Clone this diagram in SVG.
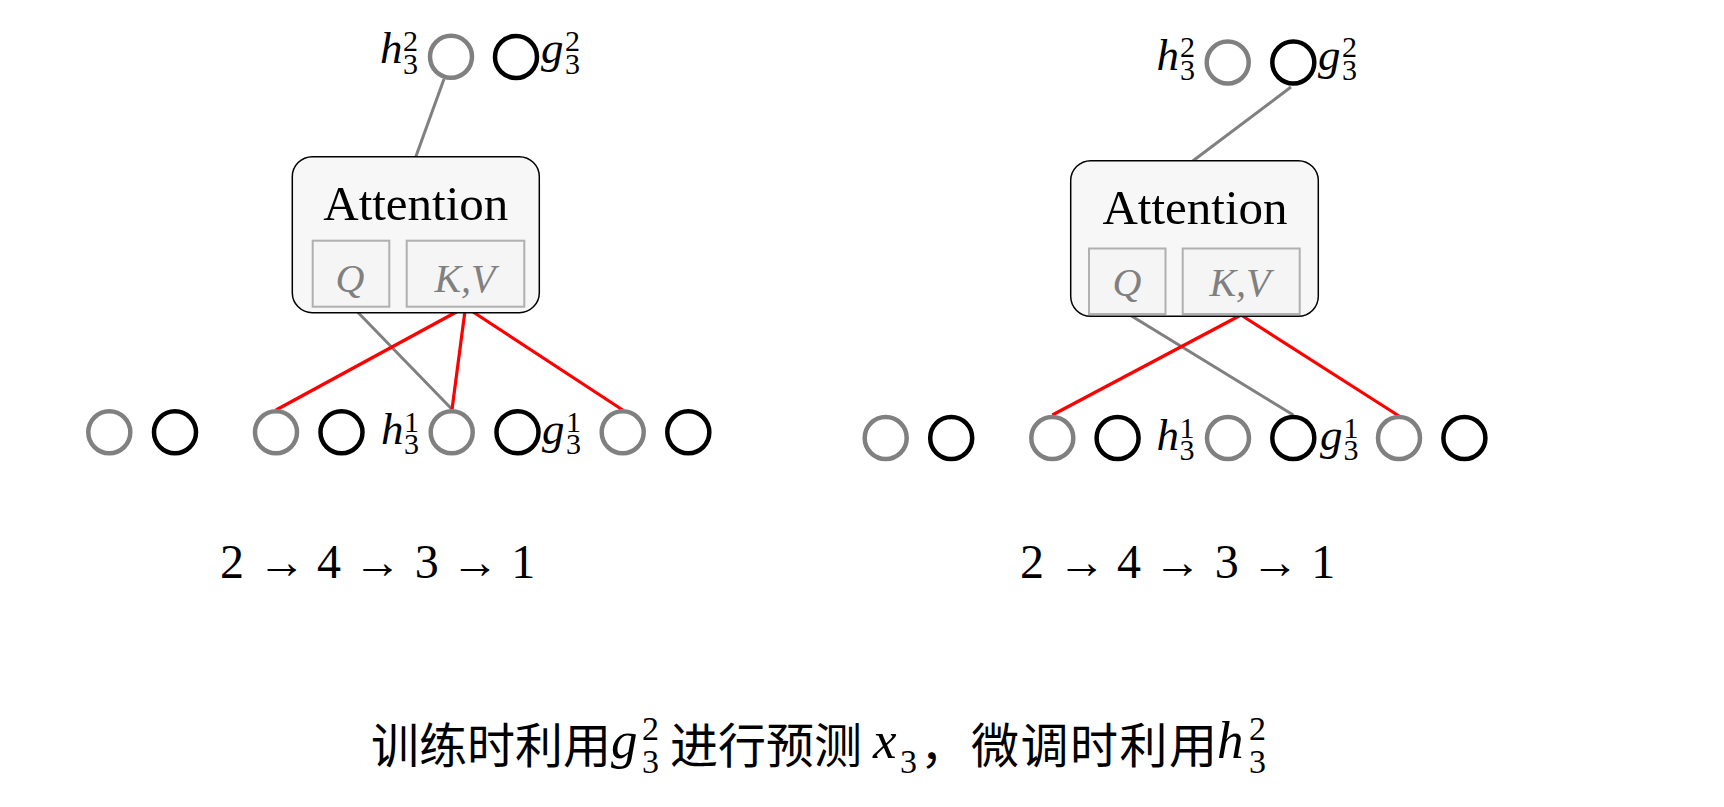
<svg xmlns="http://www.w3.org/2000/svg" width="1724" height="807" viewBox="0 0 1724 807">
  <style>
    .bg { fill: #ffffff; }
    .cg { fill: #ffffff; stroke: #808080; stroke-width: 4.5; }
    .cb { fill: #ffffff; stroke: #000000; stroke-width: 4.5; }
    .att { fill: #f7f7f7; stroke: #000000; stroke-width: 1.5; }
    .sub { fill: #f5f5f5; stroke: #b0b0b0; stroke-width: 2; }
    .attt { font-family: "Liberation Serif", "Times New Roman", serif; font-size: 49px; fill: #000; text-anchor: middle; }
    .qk { font-family: "Liberation Serif", "Times New Roman", serif; font-style: italic; font-size: 40px; fill: #808080; text-anchor: middle; }
    .lab { font-family: "Liberation Serif", "Times New Roman", serif; fill: #000; }
    .mi { font-style: italic; font-size: 45px; }
    .md { font-style: normal; font-size: 30px; }
    .seq { font-family: "Liberation Serif", "Times New Roman", serif; font-size: 48px; fill: #000; text-anchor: middle; }
    .lg { stroke: #808080; stroke-width: 3; fill: none; }
    .lr { stroke: #ff0000; stroke-width: 3.2; fill: none; }
    .cjk { font-family: "Noto Sans CJK SC", sans-serif; font-size: 48px; fill: #000; }
    .cap { font-family: "Liberation Serif", "Times New Roman", serif; fill: #000; }
    .cmi { font-style: italic; font-size: 53px; }
    .cmd { font-style: normal; font-size: 34px; }
  </style>
  <rect class="bg" x="0" y="0" width="1724" height="807"/>

  <!-- connectors -->
  <g id="connectors">
    <line class="lg" x1="444" y1="79" x2="415.7" y2="157"/>
    <line class="lg" x1="352.7" y1="307" x2="451.7" y2="409"/>
    <line class="lr" x1="465.5" y1="307" x2="276" y2="410"/>
    <line class="lr" x1="465.5" y1="307" x2="452" y2="409.5"/>
    <line class="lr" x1="465.5" y1="307" x2="622.7" y2="410"/>

    <line class="lg" x1="1291" y1="87" x2="1192.7" y2="161"/>
    <line class="lg" x1="1128.3" y1="314" x2="1293.3" y2="415"/>
    <line class="lr" x1="1241" y1="315" x2="1052.3" y2="415"/>
    <line class="lr" x1="1241" y1="315" x2="1399" y2="416"/>
  </g>

  <!-- left panel -->
  <g id="left-attention">
    <rect class="att" x="292.3" y="156.7" width="247" height="156" rx="20" ry="20"/>
    <text class="attt" x="415.8" y="220">Attention</text>
    <rect class="sub" x="312.7" y="240.7" width="76.6" height="66"/>
    <text class="qk" x="350" y="292">Q</text>
    <rect class="sub" x="406.7" y="240.7" width="117.6" height="66"/>
    <text class="qk" x="465" y="292">K,V</text>
  </g>
  <g id="left-h32">
    <circle class="cg" cx="451" cy="56.7" r="21"/>
    <text class="lab"><tspan class="mi" x="380" y="63.3">h</tspan><tspan class="md" x="403" y="51">2</tspan><tspan class="md" x="403" y="73.5">3</tspan></text>
  </g>
  <g id="left-g32">
    <circle class="cb" cx="516" cy="57" r="21"/>
    <text class="lab"><tspan class="mi" x="541" y="63.3">g</tspan><tspan class="md" x="565" y="51">2</tspan><tspan class="md" x="565" y="73.5">3</tspan></text>
  </g>
  <g id="left-row">
    <circle class="cg" cx="109.3" cy="432.3" r="21"/>
    <circle class="cb" cx="175" cy="432.3" r="21"/>
    <circle class="cg" cx="276" cy="432.3" r="21"/>
    <circle class="cb" cx="341.5" cy="432.3" r="21"/>
    <circle class="cg" cx="451.7" cy="432.3" r="21"/>
    <circle class="cb" cx="517.5" cy="432.3" r="21"/>
    <circle class="cg" cx="622.7" cy="432.3" r="21"/>
    <circle class="cb" cx="688.3" cy="432.3" r="21"/>
    <text class="lab"><tspan class="mi" x="381" y="444">h</tspan><tspan class="md" x="404" y="432">1</tspan><tspan class="md" x="404" y="454">3</tspan></text>
    <text class="lab"><tspan class="mi" x="542" y="444">g</tspan><tspan class="md" x="566" y="432">1</tspan><tspan class="md" x="566" y="454">3</tspan></text>
  </g>
  <g id="left-seq">
    <text class="seq" x="232" y="578.3">2</text>
    <text class="seq" x="281.7" y="578.3">→</text>
    <text class="seq" x="329" y="578.3">4</text>
    <text class="seq" x="377.5" y="578.3">→</text>
    <text class="seq" x="426.7" y="578.3">3</text>
    <text class="seq" x="475" y="578.3">→</text>
    <text class="seq" x="523.3" y="578.3">1</text>
  </g>

  <!-- right panel -->
  <g id="right-attention">
    <rect class="att" x="1070.7" y="160.7" width="247.6" height="155.6" rx="20" ry="20"/>
    <text class="attt" x="1195" y="224">Attention</text>
    <rect class="sub" x="1089" y="248.5" width="76.5" height="65.5"/>
    <text class="qk" x="1127" y="296">Q</text>
    <rect class="sub" x="1182.7" y="248.5" width="117" height="65.5"/>
    <text class="qk" x="1240" y="296">K,V</text>
  </g>
  <g id="right-h32">
    <circle class="cg" cx="1227.7" cy="62.5" r="21"/>
    <text class="lab"><tspan class="mi" x="1156.5" y="70">h</tspan><tspan class="md" x="1180" y="57">2</tspan><tspan class="md" x="1180" y="79.5">3</tspan></text>
  </g>
  <g id="right-g32">
    <circle class="cb" cx="1293.3" cy="62.5" r="21"/>
    <text class="lab"><tspan class="mi" x="1318" y="70">g</tspan><tspan class="md" x="1342" y="57">2</tspan><tspan class="md" x="1342" y="79.5">3</tspan></text>
  </g>
  <g id="right-row">
    <circle class="cg" cx="885.7" cy="438" r="21"/>
    <circle class="cb" cx="951.2" cy="438" r="21"/>
    <circle class="cg" cx="1052.3" cy="438" r="21"/>
    <circle class="cb" cx="1117.6" cy="438" r="21"/>
    <circle class="cg" cx="1228" cy="438" r="21"/>
    <circle class="cb" cx="1293.3" cy="438" r="21"/>
    <circle class="cg" cx="1399" cy="438" r="21"/>
    <circle class="cb" cx="1464.4" cy="438" r="21"/>
    <text class="lab"><tspan class="mi" x="1156.5" y="449.5">h</tspan><tspan class="md" x="1179.5" y="437.5">1</tspan><tspan class="md" x="1179.5" y="459.5">3</tspan></text>
    <text class="lab"><tspan class="mi" x="1320" y="449.5">g</tspan><tspan class="md" x="1343.5" y="437.5">1</tspan><tspan class="md" x="1343.5" y="459.5">3</tspan></text>
  </g>
  <g id="right-seq">
    <text class="seq" x="1032" y="578.3">2</text>
    <text class="seq" x="1081.7" y="578.3">→</text>
    <text class="seq" x="1129" y="578.3">4</text>
    <text class="seq" x="1177.5" y="578.3">→</text>
    <text class="seq" x="1226.7" y="578.3">3</text>
    <text class="seq" x="1275" y="578.3">→</text>
    <text class="seq" x="1323.3" y="578.3">1</text>
  </g>

  <!-- caption -->
  <g id="caption">
    <text class="cjk" x="371" y="763">训练时利用</text>
    <text class="cap"><tspan class="cmi" x="611" y="758.3">g</tspan><tspan class="cmd" x="642" y="740">2</tspan><tspan class="cmd" x="642" y="773">3</tspan></text>
    <text class="cjk" x="670" y="763">进行预测</text>
    <text class="cap"><tspan class="cmi" x="873" y="758.3">x</tspan><tspan class="cmd" x="900" y="773">3</tspan></text>
    <text class="cjk" x="920" y="763">，</text>
    <text class="cjk" x="971" y="763" textLength="246">微调时利用</text>
    <text class="cap"><tspan class="cmi" x="1217" y="758.3">h</tspan><tspan class="cmd" x="1249" y="740">2</tspan><tspan class="cmd" x="1249" y="773">3</tspan></text>
  </g>
</svg>
